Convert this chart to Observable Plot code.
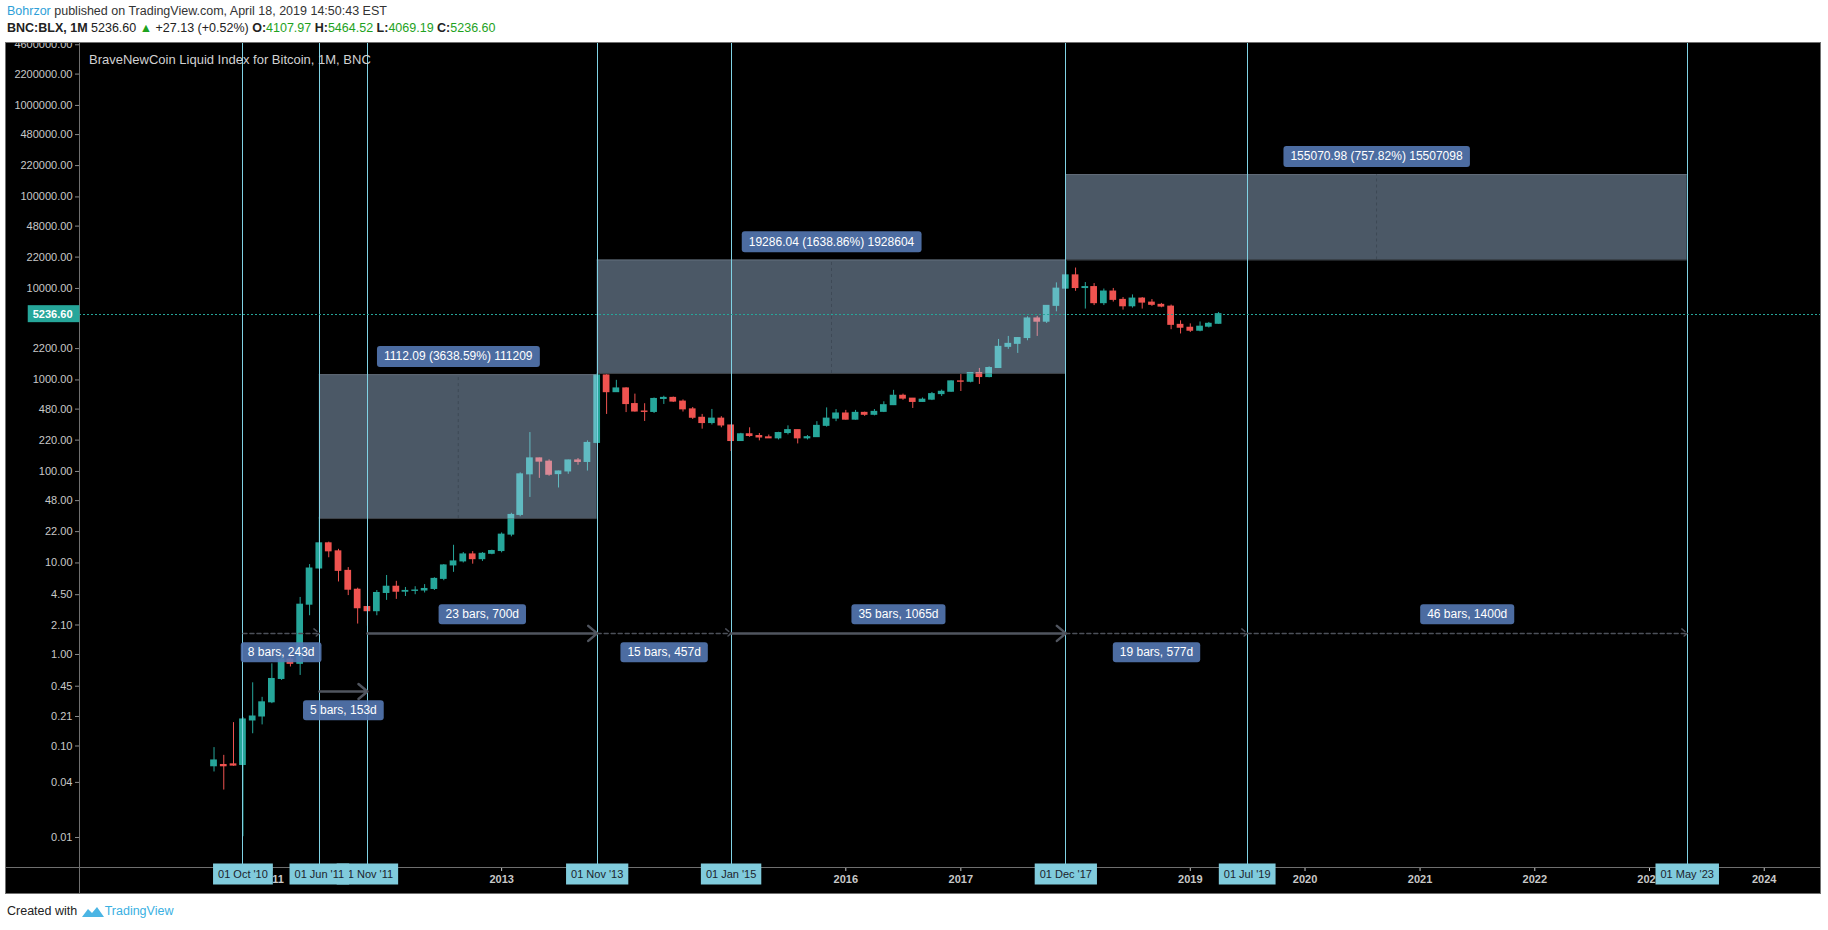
<!DOCTYPE html>
<html><head><meta charset="utf-8">
<script src="https://cdn.jsdelivr.net/npm/d3@7"></script>
<script src="https://cdn.jsdelivr.net/npm/@observablehq/plot@0.6"></script>
<style>
body{margin:0;background:#fff;width:1828px;height:930px;position:relative;font-family:"Liberation Sans",Arial,sans-serif;overflow:hidden}
#h1{position:absolute;left:7px;top:4px;font-size:12.5px;color:#333;white-space:nowrap}
#h2{position:absolute;left:7px;top:21px;font-size:12.5px;color:#222;white-space:nowrap}
.g{color:#1ea21e}
#chart{position:absolute;left:6px;top:43px;width:1814px;height:850px}
#chart svg{display:block;outline:1px solid #707070}
#title{position:absolute;left:89px;top:52px;font-size:13px;color:#d2d2d2;pointer-events:none;white-space:nowrap}
#foot{position:absolute;left:7px;top:904px;font-size:12.5px;color:#222;white-space:nowrap;display:flex;align-items:center}
#foot .tv{color:#3ab0e2}
</style></head><body>
<div id="h1"><span style="color:#2e9fd8">Bohrzor</span> published on TradingView.com, April 18, 2019 14:50:43 EST</div>
<div id="h2"><b>BNC:BLX, 1M</b> 5236.60 <span class="g">&#9650;</span> +27.13 (+0.52%) <b>O:</b><span class="g">4107.97</span> <b>H:</b><span class="g">5464.52</span> <b>L:</b><span class="g">4069.19</span> <b>C:</b><span class="g">5236.60</span></div>
<div id="chart"></div>
<div id="title">BraveNewCoin Liquid Index for Bitcoin, 1M, BNC</div>
<div id="foot">Created with&nbsp;<svg width="24" height="13" viewBox="0 0 24 13"><path d="M1 12 L7 4 L11 8 L16 2 L23 12 Z" fill="#4bb5e4"/></svg><span class="tv">TradingView</span></div>
<script>
// ---- data ----
const months = [
  "2010-07","2010-08","2010-09","2010-10","2010-11","2010-12",
  "2011-01","2011-02","2011-03","2011-04","2011-05","2011-06","2011-07","2011-08","2011-09","2011-10","2011-11","2011-12",
  "2012-01","2012-02","2012-03","2012-04","2012-05","2012-06","2012-07","2012-08","2012-09","2012-10","2012-11","2012-12",
  "2013-01","2013-02","2013-03","2013-04","2013-05","2013-06","2013-07","2013-08","2013-09","2013-10","2013-11","2013-12",
  "2014-01","2014-02","2014-03","2014-04","2014-05","2014-06","2014-07","2014-08","2014-09","2014-10","2014-11","2014-12",
  "2015-01","2015-02","2015-03","2015-04","2015-05","2015-06","2015-07","2015-08","2015-09","2015-10","2015-11","2015-12",
  "2016-01","2016-02","2016-03","2016-04","2016-05","2016-06","2016-07","2016-08","2016-09","2016-10","2016-11","2016-12",
  "2017-01","2017-02","2017-03","2017-04","2017-05","2017-06","2017-07","2017-08","2017-09","2017-10","2017-11","2017-12",
  "2018-01","2018-02","2018-03","2018-04","2018-05","2018-06","2018-07","2018-08","2018-09","2018-10","2018-11","2018-12",
  "2019-01","2019-02","2019-03","2019-04"
];
const open = [
  0.060,0.062,0.063,0.062,0.19,0.21,
  0.30,0.54,0.88,0.79,3.5,8.7,16.4,13.4,8.2,5.1,3.3,2.97,
  4.7,5.5,4.85,4.95,5.0,5.2,6.7,9.4,10.4,12.4,11.0,12.6,
  13.5,20.4,33.5,93,139,128,93.5,100,132,127,205,1120,
  735,808,545,452,447,620,637,580,477,386,338,378,
  318,215,255,244,236,230,263,283,230,237,315,378,
  430,368,437,416,448,530,672,625,575,609,700,743,
  965,955,1190,1075,1350,2300,2480,2870,4700,4330,6450,9950,
  13900,10100,10350,6900,9250,7500,6380,7750,7000,6620,6330,4000,
  3720,3450,3820,4107.97
];
const high = [
  0.096,0.079,0.18,0.205,0.49,0.34,
  0.79,1.05,0.95,4.2,9.6,31.5,16.9,14.1,8.9,5.3,3.35,5.0,
  7.3,6.3,5.4,5.5,5.8,6.9,9.6,15.6,13.0,13.3,13.0,13.8,
  21.3,34.9,96.6,266,140,134,101,133,138.5,216,1177,1140,
  990,822,700,550,635,664,650,605,500,420,476,397,
  322,261,300,260,250,268,315,283,247,350,495,475,
  465,465,445,475,577,770,700,628,635,730,775,975,
  1145,1200,1336,1390,2770,2990,2900,4900,4950,6480,11500,19700,
  16700,11600,11300,9850,10000,7950,8500,7950,7560,6860,6580,4430,
  4100,4300,4250,5464.52
];
const low = [
  0.052,0.033,0.060,0.0102,0.136,0.17,
  0.29,0.52,0.73,0.59,2.65,8.5,11.4,6.2,4.4,2.15,2.04,2.65,
  3.9,4.0,4.3,4.5,4.7,5.0,6.4,7.9,10.0,9.7,10.4,12.3,
  12.9,19.3,32.0,52,84,88.6,66,93,117,101,200,420,
  730,440,445,352,430,540,568,446,370,290,322,300,
  165,214,236,216,230,221,251,200,221,236,305,350,
  364,364,400,405,440,525,600,488,568,595,660,735,
  748,930,893,1055,1340,2160,1950,2680,2990,4140,5550,9800,
  9300,5950,6500,6500,7100,5800,6100,5950,6370,6150,3540,3180,
  3300,3360,3700,4069.19
];
const close = [
  0.0695,0.060,0.061,0.195,0.21,0.30,
  0.54,0.88,0.79,3.5,8.7,16.4,13.4,8.2,5.1,3.2,2.97,4.7,
  5.5,4.85,4.95,5.0,5.2,6.7,9.4,10.4,12.4,11.0,12.6,13.5,
  20.4,33.5,93,139,128,92,100,132,127,205,1120,735,
  808,545,452,447,620,637,580,477,386,338,378,318,
  215,255,244,235,230,263,283,230,237,315,378,430,
  368,437,416,448,530,672,625,575,609,700,743,965,
  955,1190,1075,1350,2300,2480,2870,4700,4330,6450,9950,13900,
  10100,10350,6900,9250,7500,6380,7750,7000,6620,6330,4000,3720,
  3450,3820,4108,5236.60
];
const lastClose = 5236.60;

const yTicks = [0.01,0.04,0.10,0.21,0.45,1,2.1,4.5,10,22,48,100,220,480,1000,2200,10000,22000,48000,100000,220000,480000,1000000,2200000,4600000];
const yearTicks = [2011,2013,2016,2017,2019,2020,2021,2022,2023,2024];
const xDomain = [new Date(Date.UTC(2009,3,29)), new Date(Date.UTC(2024,5,28))];
const yDomain = [0.0047, 4750000];

const vlineDates = ["2010-10-01","2011-06-01","2011-11-01","2013-11-01","2015-01-01","2017-12-01","2019-07-01","2023-05-01"];
const vlineLabels = ["01 Oct '10","01 Jun '11","01 Nov '11","01 Nov '13","01 Jan '15","01 Dec '17","01 Jul '19","01 May '23"];

const drStart = ["2010-10-01","2011-06-01","2011-11-01","2013-11-01","2015-01-01","2017-12-01","2019-07-01"];
const drEnd   = ["2011-06-01","2011-11-01","2013-11-01","2015-01-01","2017-12-01","2019-07-01","2023-05-01"];
const drPrice = [1.70, 0.394, 1.70, 1.70, 1.70, 1.70, 1.70];
const drLabel = ["8 bars, 243d","5 bars, 153d","23 bars, 700d","15 bars, 457d","35 bars, 1065d","19 bars, 577d","46 bars, 1400d"];
const drSide  = ["below","below","above","below","above","below","above"];
const drStyle = ["dashed","solid","solid","dashed","solid","dashed","dashed"];

const prStart = ["2011-06-01","2013-11-01","2017-12-01"];
const prEnd   = ["2013-11-01","2017-12-01","2023-05-01"];
const prLow   = [30.564, 1176.8, 20462.8];
const prHigh  = [1142.65, 20462.8, 175533.8];
const prLabel = ["1112.09 (3638.59%) 111209","19286.04 (1638.86%) 1928604","155070.98 (757.82%) 15507098"];

// ---- tables ----
const D = s => new Date(s.length === 7 ? s + "-01T00:00:00Z" : s + "T00:00:00Z");
const mid = (a, b) => new Date((a.getTime() + b.getTime()) / 2);
const DAY = 86400000;
const bodyHalf = 10.7 * DAY;
const candles = months.map((m, i) => ({date: D(m), o: open[i], h: high[i], l: low[i], c: close[i]}));
const vlines = vlineDates.map((d, i) => ({date: D(d), label: vlineLabels[i]}));
const dr = drStart.map((s, i) => ({start: D(s), end: D(drEnd[i]), mid: mid(D(s), D(drEnd[i])), price: drPrice[i], label: drLabel[i], side: drSide[i], style: drStyle[i]}));
const pr = prStart.map((s, i) => ({start: D(s), end: D(prEnd[i]), mid: mid(D(s), D(prEnd[i])), low: prLow[i], high: prHigh[i], label: prLabel[i]}));

const G = "#26a69a", R = "#ef5350";
const up = d => d.c >= d.o, dn = d => d.c < d.o;
const W = 1814, ML = 73;

const chart = Plot.plot({
  width: W, height: 850,
  marginLeft: ML, marginRight: 0, marginTop: 0, marginBottom: 26,
  style: {background: "#000", color: "#c8c8c8", fontFamily: "'Liberation Sans', Arial, sans-serif", fontSize: "11px", overflow: "hidden"},
  x: {type: "utc", domain: xDomain},
  y: {type: "log", domain: yDomain, axis: null},
  marks: [
    // y axis (custom ticks + labels)
    Plot.ruleY(yTicks, {stroke: "#8a8a8a", insetLeft: -4, insetRight: W - ML}),
    Plot.text(yTicks, {y: d => d, text: d => d.toFixed(2), frameAnchor: "left", dx: -7, textAnchor: "end", fill: "#c8c8c8", fontSize: 11}),
    Plot.axisX(yearTicks.map(y => new Date(Date.UTC(y, 0, 1))), {anchor: "bottom", label: null, tickFormat: d3.utcFormat("%Y"), tickSize: 4, tickPadding: 4, color: "#c8c8c8", fontWeight: "bold", fontSize: 11}),
    Plot.ruleX([xDomain[0]], {stroke: "#6f6f6f", insetBottom: -26}),
    Plot.ruleY([yDomain[0]], {stroke: "#6f6f6f", insetLeft: -ML}),
    // candles
    Plot.ruleX(candles, {filter: up, x: "date", y1: "l", y2: "h", stroke: G}),
    Plot.ruleX(candles, {filter: dn, x: "date", y1: "l", y2: "h", stroke: R}),
    Plot.rect(candles, {filter: up, x1: d => new Date(d.date - bodyHalf), x2: d => new Date(+d.date + bodyHalf), y1: d => Math.min(d.o, d.c), y2: d => Math.max(d.o, d.c), fill: G, insetTop: -0.5, insetBottom: -0.5}),
    Plot.rect(candles, {filter: dn, x1: d => new Date(d.date - bodyHalf), x2: d => new Date(+d.date + bodyHalf), y1: d => Math.min(d.o, d.c), y2: d => Math.max(d.o, d.c), fill: R, insetTop: -0.5, insetBottom: -0.5}),
    // price range boxes
    Plot.rect(pr, {x1: "start", x2: "end", y1: "low", y2: "high", fill: "rgb(187,220,255)", fillOpacity: 0.4}),
    Plot.ruleY(pr, {x1: "start", x2: "end", y: "high", stroke: "#7d8794", strokeOpacity: 0.5}),
    Plot.ruleY(pr, {x1: "start", x2: "end", y: "low", stroke: "#7d8794", strokeOpacity: 0.5}),
    Plot.ruleX(pr, {x: "mid", y1: "low", y2: "high", stroke: "#2e3742", strokeDasharray: "3,3", strokeOpacity: 0.45}),
    // vertical lines
    Plot.ruleX(vlines, {x: "date", stroke: "#80d2e4", strokeWidth: 1, shapeRendering: "crispEdges"}),
    // last price line
    Plot.ruleY([lastClose], {stroke: G, strokeDasharray: "2,2", shapeRendering: "crispEdges"}),
    // date range arrows
    Plot.arrow(dr, {filter: d => d.style === "solid", x1: "start", x2: "end", y1: "price", y2: "price", stroke: "#50555f", strokeWidth: 2.5, headLength: 7, headAngle: 80}),
    Plot.arrow(dr, {filter: d => d.style === "dashed", x1: "start", x2: "end", y1: "price", y2: "price", stroke: "#4c5059", strokeWidth: 1.5, strokeDasharray: "4,3", headLength: 7, headAngle: 80}),
    // labels
    Plot.text(dr, {filter: d => d.side === "above", x: "mid", y: "price", text: "label", dy: -19, fill: "#fff", fontSize: 12, ariaDescription: "blbox"}),
    Plot.text(dr, {filter: d => d.side === "below", x: "mid", y: "price", text: "label", dy: 19, fill: "#fff", fontSize: 12, ariaDescription: "blbox2"}),
    Plot.text(pr, {x: "mid", y: "high", text: "label", dy: -18, fill: "#fff", fontSize: 12, ariaDescription: "blbox3"}),
    Plot.text(vlines, {x: "date", text: "label", frameAnchor: "bottom", dy: 10.5, fill: "#1b232c", fontSize: 11, ariaDescription: "vlbox"}),
    Plot.text([lastClose], {y: d => d, text: d => d.toFixed(2), frameAnchor: "left", dx: -7, textAnchor: "end", fill: "#fff", fontWeight: "bold", fontSize: 11, ariaDescription: "pxbox"})
  ]
});
document.getElementById("chart").appendChild(chart);

const NS = "http://www.w3.org/2000/svg";
function boxify(desc, o) {
  const g = chart.querySelector(`g[aria-description="${desc}"]`);
  if (!g) return [];
  const out = [];
  g.querySelectorAll("text").forEach(t => {
    const b = t.getBBox();
    const r = document.createElementNS(NS, "rect");
    const cy = b.y + b.height / 2;
    const x0 = b.x - o.padX;
    const w = o.rightTo != null ? (b.x + b.width + o.rightTo) - x0 : b.width + 2 * o.padX;
    r.setAttribute("x", x0); r.setAttribute("y", cy - o.h / 2);
    r.setAttribute("width", w); r.setAttribute("height", o.h);
    r.setAttribute("rx", o.rx); r.setAttribute("fill", o.fill);
    const tr = t.getAttribute("transform"); if (tr) r.setAttribute("transform", tr);
    t.parentNode.insertBefore(r, t);
    out.push([r, t]);
  });
  return [g, out];
}
const blue = "rgba(84,120,178,0.9)";
boxify("blbox", {padX: 7, h: 20, rx: 3, fill: blue});
boxify("blbox2", {padX: 7, h: 20, rx: 3, fill: blue});
boxify("blbox3", {padX: 7, h: 21, rx: 3, fill: blue});
boxify("pxbox", {padX: 5, h: 17, rx: 0, fill: G, rightTo: 7});
const vl = boxify("vlbox", {padX: 5, h: 21, rx: 0, fill: "#80cbdc"});
if (vl.length) {
  const [g, pairs] = vl;
  for (let i = pairs.length - 1; i >= 0; i--) { g.appendChild(pairs[i][0]); g.appendChild(pairs[i][1]); }
}
</script>
</body></html>
